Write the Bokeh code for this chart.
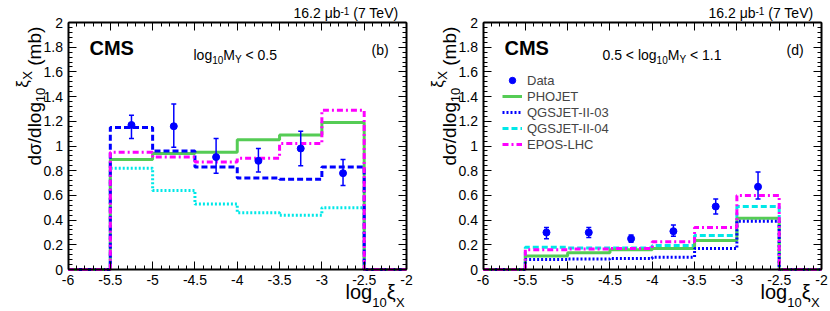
import math
from bokeh.plotting import figure
from bokeh.models import FixedTicker, LinearAxis, Label, Legend, LegendItem, Range1d
from bokeh.layouts import row
from bokeh.embed import file_html
from bokeh.resources import INLINE
from bokeh.core.properties import value

# ---------------- data ----------------
x_lo, x_hi = -6.0, -2.0
y_lo, y_hi = 0.0, 2.0
bin_edges = [-5.5, -5.0, -4.5, -4.0, -3.5, -3.0, -2.5]
bin_centers = [-5.25, -4.75, -4.25, -3.75, -3.25, -2.75]

x_ticks = [-6.0, -5.5, -5.0, -4.5, -4.0, -3.5, -3.0, -2.5, -2.0]
x_tick_labels = ["-6", "-5.5", "-5", "-4.5", "-4", "-3.5", "-3", "-2.5", "-2"]
y_ticks = [0.0, 0.2, 0.4, 0.6, 0.8, 1.0, 1.2, 1.4, 1.6, 1.8, 2.0]
y_tick_labels = ["0", "0.2", "0.4", "0.6", "0.8", "1", "1.2", "1.4", "1.6", "1.8", "2"]

# panel (b): log10 MY < 0.5
b_data = [1.17, 1.16, 0.91, 0.88, 0.98, 0.78]
b_err_lo = [1.06, 0.99, 0.78, 0.79, 0.84, 0.68]
b_err_hi = [1.25, 1.34, 1.06, 0.98, 1.12, 0.89]
b_phojet = [0.89, 0.94, 0.95, 1.05, 1.09, 1.19]
b_qgs03 = [1.15, 0.96, 0.83, 0.74, 0.73, 0.83]
b_qgs04 = [0.82, 0.64, 0.53, 0.46, 0.44, 0.50]
b_epos = [0.95, 0.91, 0.87, 0.90, 1.02, 1.29]

# panel (d): 0.5 < log10 MY < 1.1
d_data = [0.30, 0.30, 0.25, 0.31, 0.51, 0.67]
d_err_lo = [0.25, 0.26, 0.22, 0.27, 0.45, 0.57]
d_err_hi = [0.34, 0.34, 0.28, 0.36, 0.57, 0.79]
d_phojet = [0.11, 0.135, 0.16, 0.17, 0.235, 0.415]
d_qgs03 = [0.08, 0.085, 0.09, 0.10, 0.17, 0.39]
d_qgs04 = [0.18, 0.175, 0.175, 0.195, 0.275, 0.51]
d_epos = [0.16, 0.165, 0.17, 0.225, 0.34, 0.60]

legend_labels = ["Data", "PHOJET", "QGSJET-II-03", "QGSJET-II-04", "EPOS-LHC"]

# ---------------- style / layout ----------------
FONT = "Liberation Sans"
C_DATA = "#0000ff"
C_PHO = "#55cc55"
C_Q03 = "#0000ff"
C_Q04 = "#00e8e8"
C_EPOS = "#ff00ff"
DASH = "6 3"
DOT = "2 2"
DASHDOT = "6 3 2 3"

W, H = 415, 311           # each panel canvas
BOX_L, BOX_R = 67.5, 406.0  # pixel position of the plot box inside a panel
BOX_T, BOX_B = 22.0, 269.0
SX = (BOX_R - BOX_L) / (x_hi - x_lo)
SY = (BOX_B - BOX_T) / (y_hi - y_lo)
XR0 = x_lo - BOX_L / SX
XR1 = x_hi + (W - BOX_R) / SX
YR0 = y_lo - (H - BOX_B) / SY
YR1 = y_hi + BOX_T / SY
MID = 0.33  # distance baseline -> middle of text box, in font sizes

CW = {'d': .556, 'σ': .61, '/': .278, 'l': .222, 'o': .556, 'g': .556, '1': .556,
      '0': .556, 'ξ': .47, 'X': .667, ' ': .278, '(': .333, 'm': .833, 'b': .556,
      ')': .333, 'M': .833, 'Y': .667, '<': .584, '.': .278, '5': .556, '6': .556,
      '2': .556, 'μ': .576, '-': .333, '7': .556, 'T': .611, 'e': .556, 'V': .667}


def tw(s, size):
    return sum(CW.get(c, .556) for c in s) * size


def style_axis(ax, major_in, minor_in, line=True):
    ax.axis_line_color = "black" if line else None
    ax.axis_line_width = 2
    ax.major_tick_in = major_in
    ax.major_tick_out = 0
    ax.minor_tick_in = minor_in
    ax.minor_tick_out = 0
    ax.major_tick_line_color = "black"
    ax.minor_tick_line_color = "black"
    ax.major_tick_line_width = 1
    ax.minor_tick_line_width = 1
    ax.major_label_text_font = FONT
    ax.major_label_text_font_size = "14px"
    ax.major_label_text_color = "black"
    ax.major_label_standoff = 5


def make_panel():
    p = figure(width=W, height=H, output_backend="svg", toolbar_location=None,
               x_range=Range1d(XR0, XR1), y_range=Range1d(YR0, YR1),
               min_border=0, min_border_left=0, min_border_right=0,
               min_border_top=0, min_border_bottom=0)
    p.xaxis.visible = False
    p.yaxis.visible = False
    p.grid.visible = False
    p.outline_line_color = None
    p.background_fill_color = "white"
    p.border_fill_color = "white"
    xminor = [x_lo + 0.1 * i for i in range(41)]
    yminor = [y_lo + 0.04 * i for i in range(51)]

    ax = LinearAxis(ticker=FixedTicker(ticks=x_ticks, minor_ticks=xminor),
                    fixed_location=y_lo, bounds=(x_lo, x_hi))
    ax.major_label_overrides = {t: l for t, l in zip(x_ticks, x_tick_labels)}
    style_axis(ax, 8, 4)
    p.add_layout(ax, "below")

    ay = LinearAxis(ticker=FixedTicker(ticks=y_ticks, minor_ticks=yminor),
                    fixed_location=x_lo, bounds=(y_lo, y_hi))
    ay.major_label_overrides = {t: l for t, l in zip(y_ticks, y_tick_labels)}
    style_axis(ay, 8, 4)
    p.add_layout(ay, "left")

    # mirrored tick marks (no labels) on top and right
    for ticks, tin, line in ((x_ticks, 8, True), (xminor, 4, False)):
        a = LinearAxis(ticker=FixedTicker(ticks=[], minor_ticks=ticks),
                       fixed_location=y_hi, bounds=(x_lo, x_hi))
        style_axis(a, 0, tin, line)
        p.add_layout(a, "above")
    for ticks, tin, line in ((y_ticks, 8, True), (yminor, 4, False)):
        a = LinearAxis(ticker=FixedTicker(ticks=[], minor_ticks=ticks),
                       fixed_location=x_hi, bounds=(y_lo, y_hi))
        style_axis(a, 0, tin, line)
        p.add_layout(a, "right")
    return p


def to_data(px, py):
    return XR0 + px / W * (XR1 - XR0), YR1 - py / H * (YR1 - YR0)


def txt(p, px, base_y, s, size, bold=False):
    x, y = to_data(px, base_y - MID * size)
    p.add_layout(Label(x=x, y=y, text=s, text_font=FONT, text_font_size=f"{size}px",
                       text_font_style="bold" if bold else "normal",
                       text_color="black", text_align="left", text_baseline="middle"))


def vtxt(p, base_x, py, s, size):
    x, y = to_data(base_x - MID * size, py)
    p.text(x=[x], y=[y], text=[s], angle=math.pi / 2, text_font=value(FONT),
           text_font_size=value(f"{size}px"), text_color="black",
           text_align="left", text_baseline="middle")


def chain(p, x, parts, vertical=False):
    # parts: (text, size, baseline); leading spaces advance without being drawn
    for s, size, base in parts:
        lead = len(s) - len(s.lstrip(" "))
        s = s.lstrip(" ")
        if vertical:
            x -= tw(" " * lead, size)
            vtxt(p, base, x, s, size)
            x -= tw(s, size)
        else:
            x += tw(" " * lead, size)
            txt(p, x, base, s, size)
            x += tw(s, size)


def hist(p, vals, color, dash, width=3):
    xs = [x_lo] + bin_edges + [x_hi]
    ys = [0.0] + list(vals) + [0.0, 0.0]
    return p.step(xs, ys, mode="after", line_color=color, line_width=width, line_dash=dash)


def data_pts(p, vals, lo, hi):
    p.segment(x0=bin_centers, y0=lo, x1=bin_centers, y1=hi, line_color=C_DATA, line_width=1.5)
    p.scatter(bin_centers, lo, marker="dash", size=5, line_color=C_DATA, line_width=1.5)
    p.scatter(bin_centers, hi, marker="dash", size=5, line_color=C_DATA, line_width=1.5)
    return p.scatter(bin_centers, vals, marker="circle", size=7, fill_color=C_DATA,
                     line_color=C_DATA)


def common_text(p, region_parts, region_x, tag):
    chain(p, 293, [("16.2 μb", 14, 17.5), ("-1", 10, 13.5), (" (7 TeV)", 14, 17.5)])
    txt(p, 89, 54, "CMS", 20, bold=True)
    chain(p, region_x, region_parts)
    txt(p, 371, 54, tag, 14)
    # rotated y title (runs upwards); baselines are x positions
    chain(p, 165, [("dσ/dlog", 19, 40), ("10", 13, 44), ("ξ", 17, 28),
                   ("X", 13, 31), (" (mb)", 19, 40)], vertical=True)
    # x title
    chain(p, 345, [("log", 20, 298), ("10", 13, 306), ("ξ", 20, 298), ("X", 13, 306)])


# ---------------- panel (b) ----------------
p1 = make_panel()
hist(p1, b_qgs04, C_Q04, DOT)
hist(p1, b_phojet, C_PHO, "solid")
hist(p1, b_qgs03, C_Q03, DASH)
hist(p1, b_epos, C_EPOS, DASHDOT)
data_pts(p1, b_data, b_err_lo, b_err_hi)
common_text(p1, [("log", 14, 59), ("10", 10, 62.5), ("M", 14, 59), ("Y", 10, 62.5),
                 (" < 0.5", 14, 59)], 193, "(b)")

# ---------------- panel (d) ----------------
p2 = make_panel()
r_q04 = hist(p2, d_qgs04, C_Q04, DASH)
r_pho = hist(p2, d_phojet, C_PHO, "solid")
r_q03 = hist(p2, d_qgs03, C_Q03, DOT)
r_epos = hist(p2, d_epos, C_EPOS, DASHDOT)
r_data = data_pts(p2, d_data, d_err_lo, d_err_hi)
common_text(p2, [("0.5 < log", 14, 59), ("10", 10, 62.5), ("M", 14, 59), ("Y", 10, 62.5),
                 (" < 1.1", 14, 59)], 187, "(d)")

legend = Legend(items=[LegendItem(label=l, renderers=[r]) for l, r in
                       zip(legend_labels, [r_data, r_pho, r_q03, r_q04, r_epos])],
                location=(87, 159), orientation="vertical",
                glyph_width=20, glyph_height=16, label_height=16, label_standoff=5,
                spacing=0, padding=0, margin=0,
                label_text_font=FONT, label_text_font_size="13px",
                label_text_baseline="middle",
                background_fill_alpha=0, border_line_color=None)
p2.add_layout(legend)

layout = row(p1, p2)
open("out.html", "w").write(file_html(layout, INLINE))
